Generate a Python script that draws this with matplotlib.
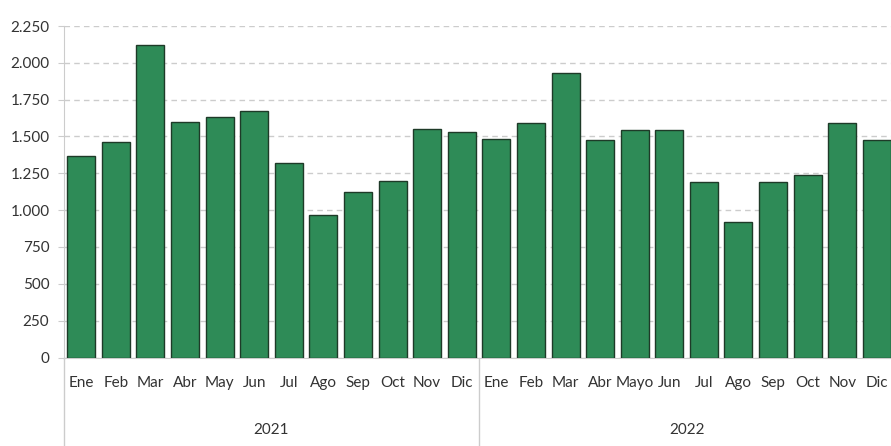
import matplotlib
matplotlib.use("Agg")
import matplotlib.pyplot as plt
from matplotlib.ticker import FuncFormatter
import matplotlib.transforms as mtransforms

months_2021 = ["Ene", "Feb", "Mar", "Abr", "May", "Jun", "Jul", "Ago", "Sep", "Oct", "Nov", "Dic"]
months_2022 = ["Ene", "Feb", "Mar", "Abr", "Mayo", "Jun", "Jul", "Ago", "Sep", "Oct", "Nov", "Dic"]
values_2021 = [1368, 1465, 2119, 1596, 1630, 1675, 1322, 967, 1121, 1200, 1551, 1533]
values_2022 = [1481, 1594, 1929, 1473, 1542, 1542, 1191, 920, 1191, 1239, 1594, 1474]
years = ["2021", "2022"]
yticks = [0, 250, 500, 750, 1000, 1250, 1500, 1750, 2000, 2250]

plt.rcParams['font.family'] = ['Lato', 'DejaVu Sans']
txt = '#333333'
grid_c = '#cccccc'

W, H = 891, 446
fig = plt.figure(figsize=(W / 100, H / 100), dpi=100)
ax = fig.add_axes([64 / W, (H - 357.5) / H, (W - 64) / W, 331.5 / H])

labels = months_2021 + months_2022
values = values_2021 + values_2022
x = list(range(len(values)))
ax.bar(x, values, width=0.81, color='#2e8b57', edgecolor='#1e3a28', linewidth=1.0, zorder=3)

ax.set_ylim(0, 2250)
ax.set_xlim(-0.5, 23.41)
ax.set_yticks(yticks)
ax.yaxis.set_major_formatter(FuncFormatter(lambda v, p: f"{int(v):,}".replace(",", ".")))
ax.yaxis.grid(True, linestyle=(0, (4, 3)), color=grid_c, linewidth=1.0, zorder=0)
ax.tick_params(axis='y', length=4.5, color=grid_c, labelsize=11, labelcolor=txt, pad=6)
ax.tick_params(axis='x', length=0, labelsize=11, labelcolor=txt, pad=13)
ax.set_xticks(x)
ax.set_xticklabels(labels)

for s in ['top', 'right']:
    ax.spines[s].set_visible(False)
ax.spines['left'].set_color(grid_c)
ax.spines['bottom'].set_color(grid_c)
ax.spines['left'].set_zorder(4)

trans = mtransforms.blended_transform_factory(ax.transData, ax.transAxes)
bottom_ax = -(446 - 357.5) / 331.5
for bx in [-0.5, 11.5]:
    ax.plot([bx, bx], [0, bottom_ax], transform=trans, color=grid_c, linewidth=1.0, clip_on=False)

year_y = -(430 - 357.5) / 331.5
for i, yr in enumerate(years):
    ax.text(5.5 + 12 * i, year_y, yr, transform=trans, ha='center', va='center',
            fontsize=11, color=txt)

fig.savefig("out.png", dpi=100)
